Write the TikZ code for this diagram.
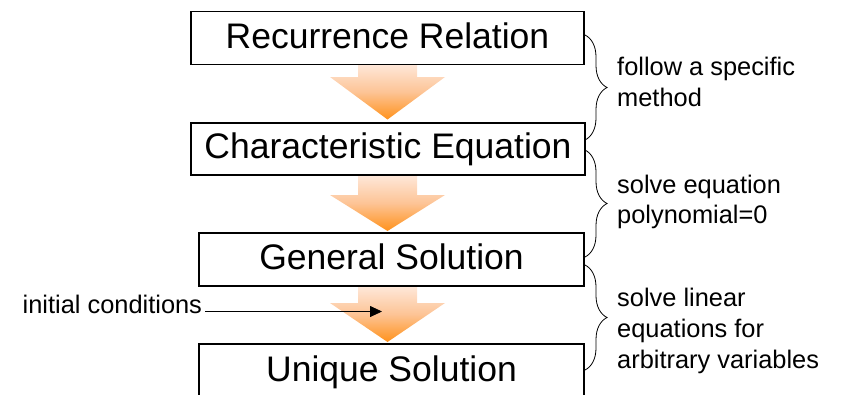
\documentclass[tikz,border=0pt]{standalone}
\usepackage{fontspec}
\setmainfont{Liberation Sans}
\usetikzlibrary{arrows.meta,decorations.pathreplacing,calc}
\definecolor{arrtop}{RGB}{254,232,218}
\definecolor{arrmid}{RGB}{253,196,150}
\definecolor{arrbot}{RGB}{255,146,28}
\begin{document}
\begin{tikzpicture}[x=1pt,y=-1pt,
  box/.style={draw, line width=1.8pt, inner sep=0pt, font=\fontsize{35.5}{40}\selectfont, text height=26pt, text depth=6pt},
  lbl/.style={font=\fontsize{25.4}{31}\selectfont, inner sep=0pt, anchor=base west},
  blockarrow/.style={top color=arrtop, bottom color=arrbot, middle color=arrmid, draw=none},
  bracestyle/.style={decorate, decoration={brace, amplitude=22pt}, line width=0.8pt}]
\useasboundingbox (0,0) rectangle (842,394);
\clip (0,0) rectangle (842,394);
% block arrows
\path[blockarrow] (358,64) -- (358,77) -- (330,77) -- (387.5,119.5) -- (445,77) -- (417,77) -- (417,64) -- cycle;
\path[blockarrow] (358,175) -- (358,195) -- (330,195) -- (387.5,231) -- (445,195) -- (417,195) -- (417,175) -- cycle;
\path[blockarrow] (358,286) -- (358,303) -- (330,303) -- (387.5,342) -- (445,303) -- (417,303) -- (417,286) -- cycle;
% boxes
\node[box, minimum width=393pt, minimum height=53pt] (b1) at (387.5,38) {Recurrence Relation};
\node[box, minimum width=394pt, minimum height=52pt] (b2) at (388,148.7) {Characteristic Equation};
\node[box, minimum width=385pt, minimum height=53pt] (b3) at (391.5,259.2) {General Solution};
\node[box, minimum width=385pt, minimum height=60pt, text depth=12pt] (b4) at (391.5,374) {Unique Solution};
% braces
\coordinate (r1a) at (585,35);  \coordinate (r1b) at (585,140);
\coordinate (r2a) at (585,150); \coordinate (r2b) at (585,257);
\coordinate (r3a) at (585,265); \coordinate (r3b) at (585,370);
\draw[bracestyle] (r1a) -- (r1b);
\draw[bracestyle] (r2a) -- (r2b);
\draw[bracestyle] (r3a) -- (r3b);
% labels
\node[lbl] (l1a) at (617,75) {follow a specific};
\node[lbl] (l1b) at (617,106.5) {method};
\node[lbl] (l2a) at (617,193) {solve equation};
\node[lbl] (l2b) at (617,223.5) {polynomial=0};
\node[lbl] (l3a) at (617,306.5) {solve linear};
\node[lbl] (l3b) at (617,337.5) {equations for};
\node[lbl] (l3c) at (617,368) {arbitrary variables};
% initial conditions
\node[lbl] (ic) at (22.5,313) {initial conditions};
\coordinate (ictip) at (382,311.5);
\draw[line width=0.8pt, -{Triangle[length=12pt,width=11pt]}] ([xshift=3pt]ic.east |- ictip) -- (ictip);
\end{tikzpicture}
\end{document}
